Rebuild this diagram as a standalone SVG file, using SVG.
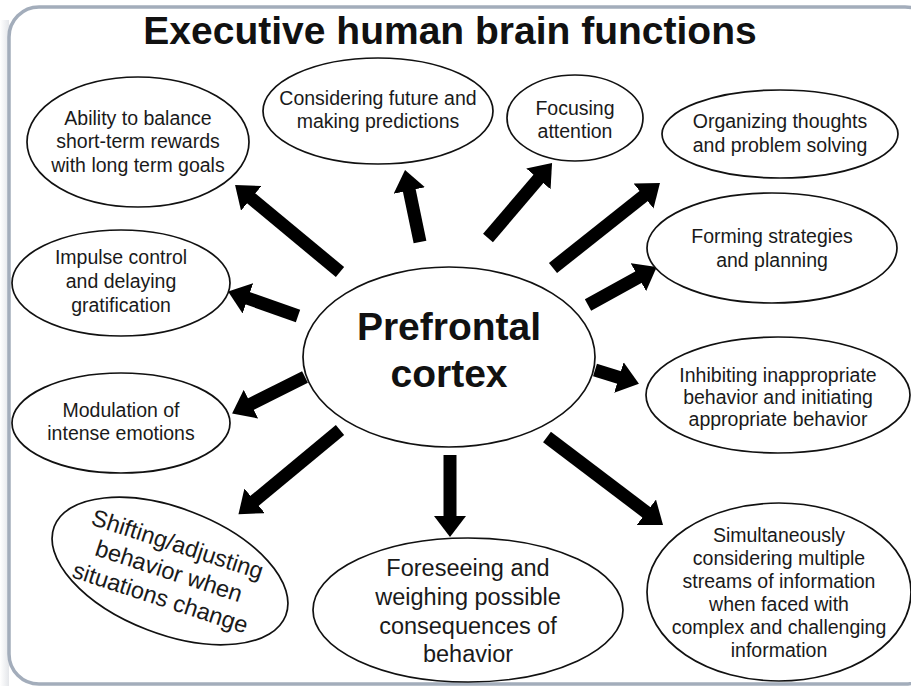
<svg xmlns="http://www.w3.org/2000/svg" width="911" height="686" viewBox="0 0 911 686">
  <style>
    .node ellipse { fill: #ffffff; stroke: #111111; stroke-width: 1.7; }
    .node text { font-family: "Liberation Sans", Arial, sans-serif; font-size: 19.5px; fill: #1a1a1a; text-anchor: middle; }
    .node text.big { font-size: 23.5px; }
    .title { font-family: "Liberation Sans", Arial, sans-serif; font-weight: bold; font-size: 39px; fill: #111111; text-anchor: middle; }
    .center text { font-family: "Liberation Sans", Arial, sans-serif; font-weight: bold; font-size: 39px; fill: #111111; text-anchor: middle; }
    .arrows line { stroke: #000000; stroke-width: 13; stroke-linecap: butt; marker-end: url(#head); }
  </style>
  <defs>
    <marker id="head" markerUnits="userSpaceOnUse" viewBox="0 0 22 32" markerWidth="22" markerHeight="32" refX="2" refY="16" orient="auto">
      <path d="M0,0 L21,16 L0,32 z" fill="#000000"/>
    </marker>
    <linearGradient id="shade" x1="0" y1="0" x2="1" y2="0">
      <stop offset="0" stop-color="#ffffff"/>
      <stop offset="1" stop-color="#e4e6ea"/>
    </linearGradient>
  </defs>

  <rect x="0" y="0" width="911" height="686" fill="#ffffff"/>
  <rect x="0" y="20" width="9" height="666" fill="url(#shade)"/>
  <rect id="frame" x="9" y="7" width="926" height="677" rx="30" ry="30" fill="#ffffff" stroke="#a3adbb" stroke-width="3.5"/>

  <text class="title" x="450" y="44">Executive human brain functions</text>

  <g class="arrows" id="connectors">
    <line x1="340" y1="272" x2="249.7" y2="197.1"/>
    <line x1="420" y1="242" x2="408.9" y2="188.6"/>
    <line x1="488" y1="238" x2="539.7" y2="177.4"/>
    <line x1="553" y1="268" x2="645.1" y2="194.8"/>
    <line x1="588" y1="305" x2="640.1" y2="276.2"/>
    <line x1="595" y1="370" x2="620.8" y2="378.0"/>
    <line x1="547" y1="437" x2="647.9" y2="513.5"/>
    <line x1="450" y1="455" x2="450" y2="518"/>
    <line x1="340" y1="430" x2="253.1" y2="502.1"/>
    <line x1="305" y1="377" x2="249.1" y2="405"/>
    <line x1="298" y1="316" x2="246" y2="297.7"/>
  </g>

  <g class="node center" id="prefrontal">
    <ellipse cx="449" cy="357" rx="146" ry="90"/>
    <text x="449" y="340">Prefrontal</text>
    <text x="449" y="387">cortex</text>
  </g>

  <g class="node" id="balance">
    <ellipse cx="138" cy="142" rx="111" ry="65"/>
    <text x="138" y="125">Ability to balance</text>
    <text x="138" y="148">short-term rewards</text>
    <text x="138" y="172">with long term goals</text>
  </g>

  <g class="node" id="future">
    <ellipse cx="378" cy="111" rx="115" ry="53"/>
    <text x="378" y="105">Considering future and</text>
    <text x="378" y="128">making predictions</text>
  </g>

  <g class="node" id="focusing">
    <ellipse cx="575" cy="118" rx="68" ry="43"/>
    <text x="575" y="115">Focusing</text>
    <text x="575" y="138">attention</text>
  </g>

  <g class="node" id="organizing">
    <ellipse cx="780" cy="134" rx="118" ry="44"/>
    <text x="780" y="128">Organizing thoughts</text>
    <text x="780" y="152">and problem solving</text>
  </g>

  <g class="node" id="strategies">
    <ellipse cx="772" cy="248" rx="125" ry="55"/>
    <text x="772" y="243">Forming strategies</text>
    <text x="772" y="267">and planning</text>
  </g>

  <g class="node" id="inhibiting">
    <ellipse cx="778" cy="395" rx="132" ry="58"/>
    <text x="778" y="382">Inhibiting inappropriate</text>
    <text x="778" y="404">behavior and initiating</text>
    <text x="778" y="426">appropriate behavior</text>
  </g>

  <g class="node" id="simultaneous">
    <ellipse cx="779" cy="592" rx="132" ry="89"/>
    <text x="779" y="542">Simultaneously</text>
    <text x="779" y="565">considering multiple</text>
    <text x="779" y="588">streams of information</text>
    <text x="779" y="611">when faced with</text>
    <text x="779" y="634">complex and challenging</text>
    <text x="779" y="657">information</text>
  </g>

  <g class="node" id="foreseeing">
    <ellipse cx="468" cy="610" rx="155" ry="72"/>
    <text class="big" x="468" y="576">Foreseeing and</text>
    <text class="big" x="468" y="605">weighing possible</text>
    <text class="big" x="468" y="634">consequences of</text>
    <text class="big" x="468" y="662">behavior</text>
  </g>

  <g class="node" id="shifting">
    <ellipse cx="170" cy="571" rx="124" ry="63" transform="rotate(21 170 571)"/>
    <g transform="rotate(18 169 571)">
      <text class="big" x="169" y="551">Shifting/adjusting</text>
      <text class="big" x="169" y="579">behavior when</text>
      <text class="big" x="169" y="607">situations change</text>
    </g>
  </g>

  <g class="node" id="modulation">
    <ellipse cx="121" cy="423" rx="109" ry="50"/>
    <text x="121" y="417">Modulation of</text>
    <text x="121" y="440">intense emotions</text>
  </g>

  <g class="node" id="impulse">
    <ellipse cx="121" cy="283" rx="109" ry="53"/>
    <text x="121" y="264">Impulse control</text>
    <text x="121" y="288">and delaying</text>
    <text x="121" y="312">gratification</text>
  </g>
</svg>
